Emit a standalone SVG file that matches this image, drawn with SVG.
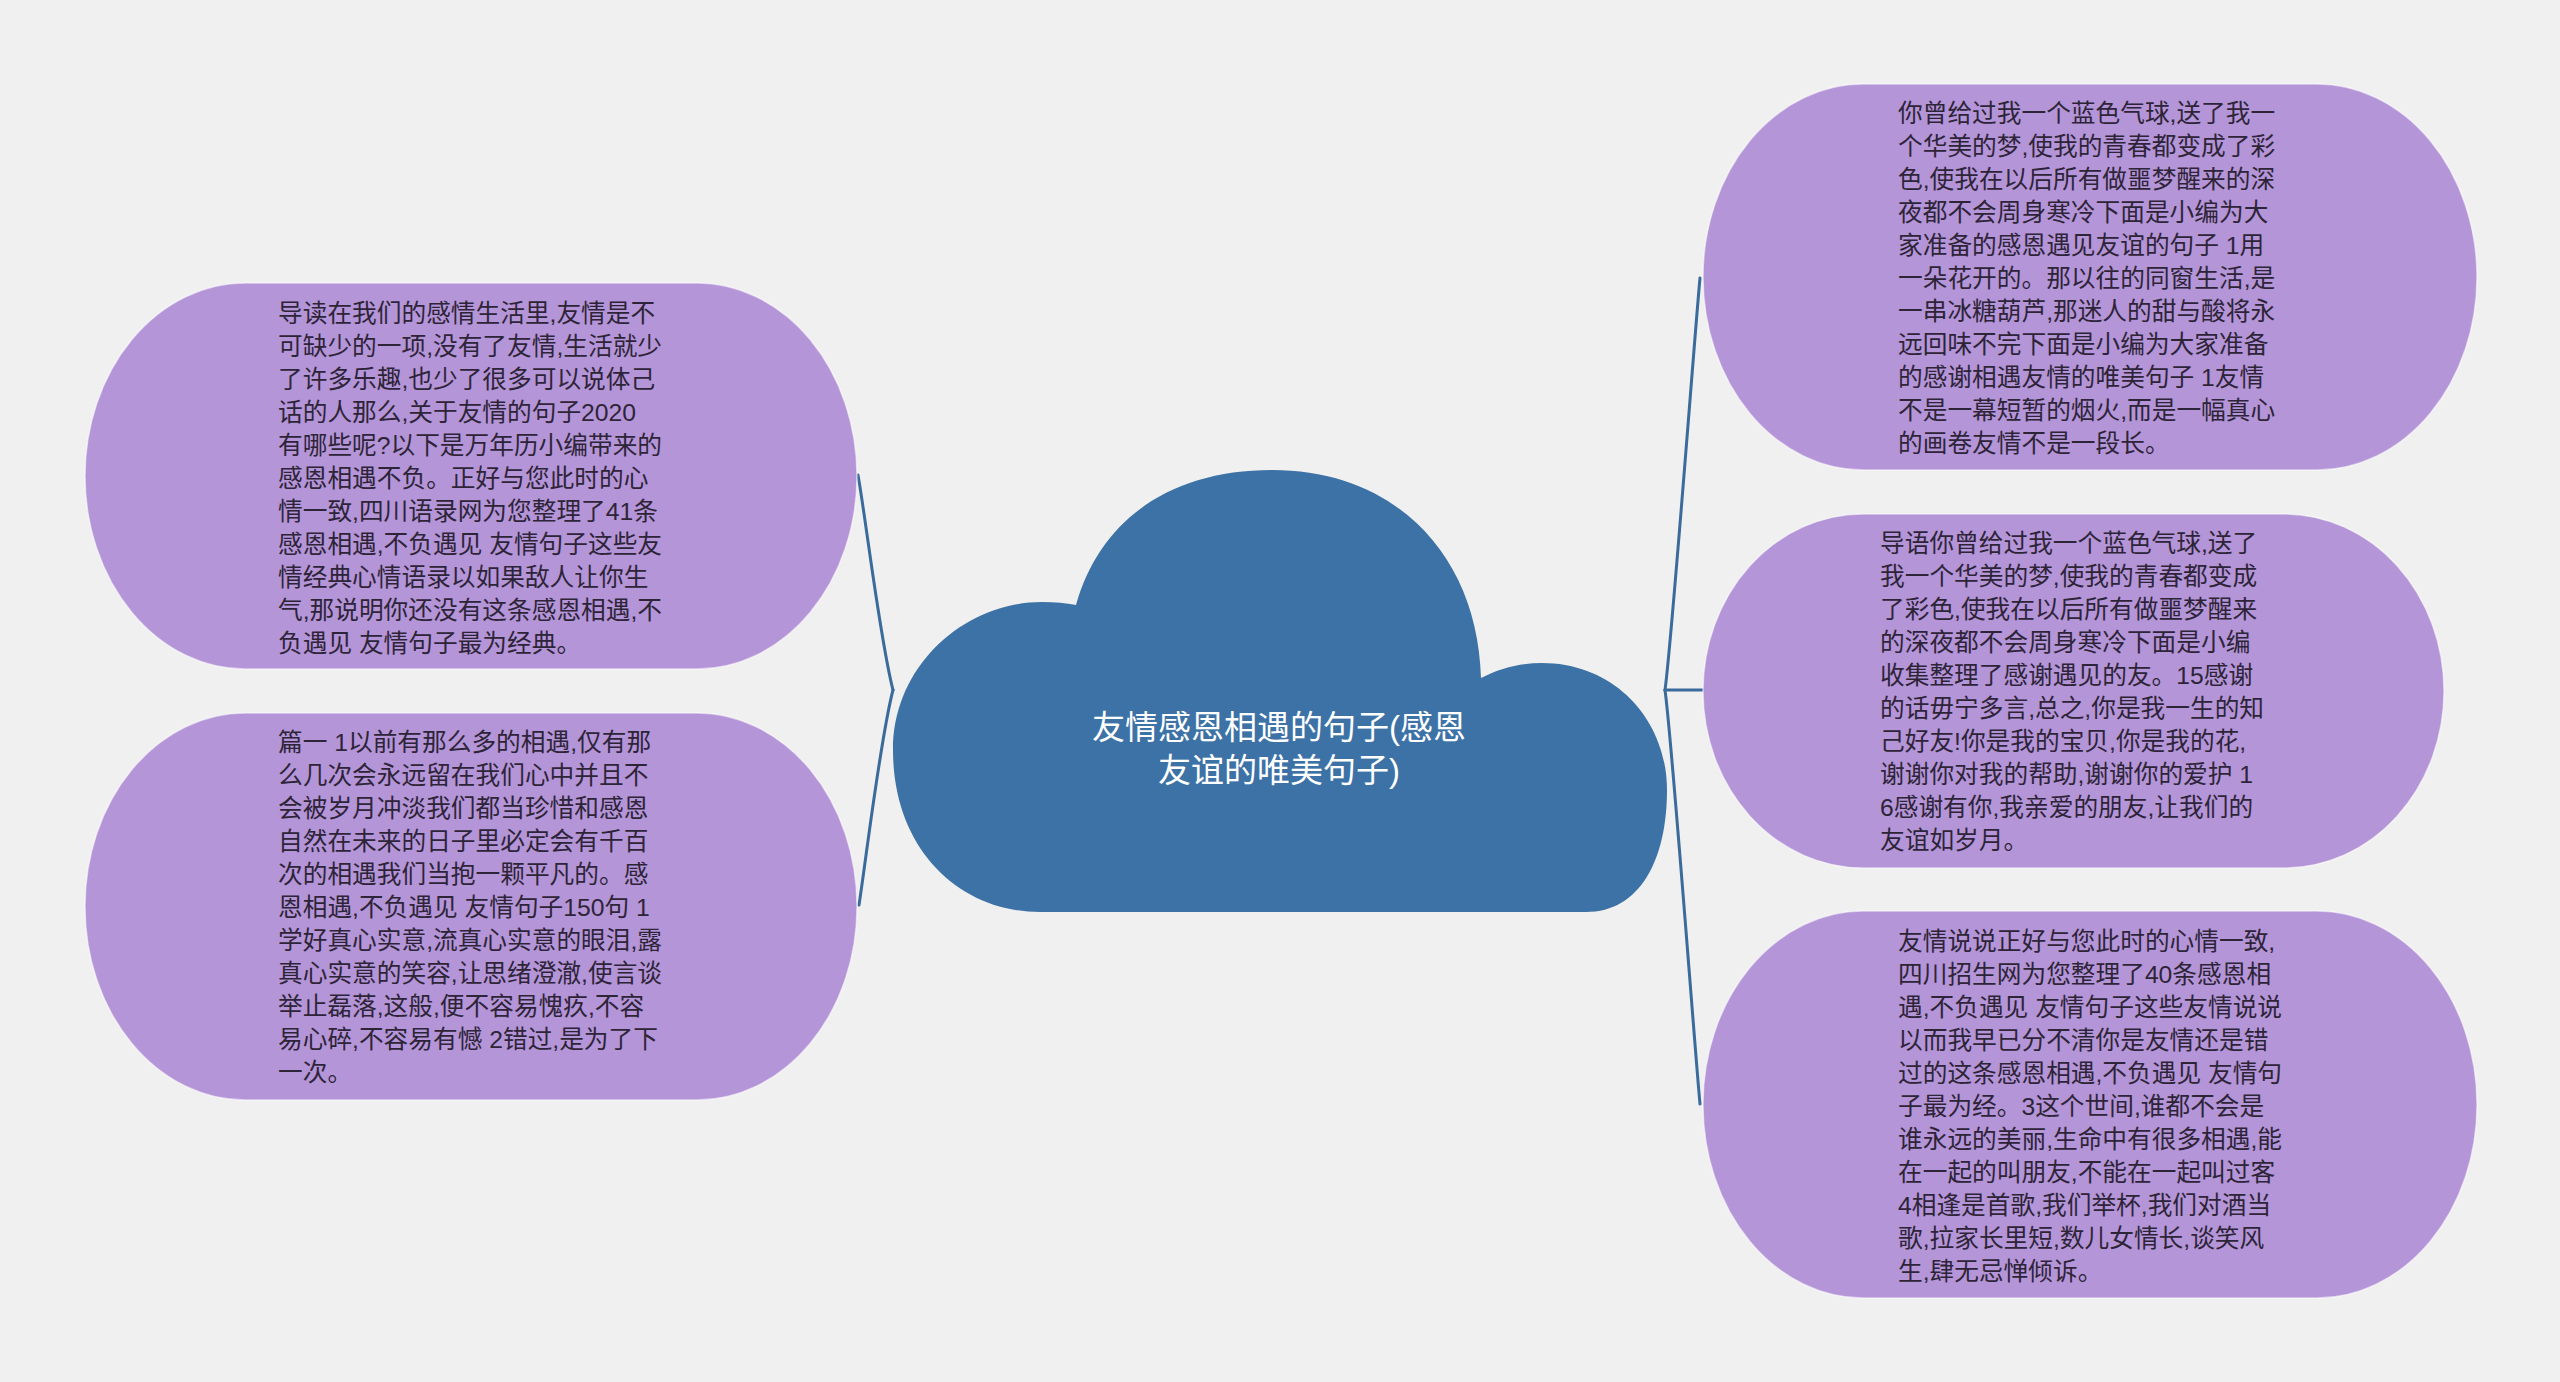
<svg xmlns="http://www.w3.org/2000/svg" width="2560" height="1382" viewBox="0 0 2560 1382">
<style>
.bg{fill:#f0f0f0}
.node{fill:#b495d8;stroke:#ffffff;stroke-opacity:0.55;stroke-width:1.5}
.cloud{fill:#3d72a6}
.conn{fill:none;stroke:#3a6b9b;stroke-width:3;stroke-linecap:round;stroke-linejoin:round}
.t{font-family:'Liberation Sans','Noto Sans CJK SC',sans-serif;font-size:24.7px;fill:#2e2438}
.title{font-family:'Liberation Sans','Noto Sans CJK SC',sans-serif;font-size:33px;fill:#ffffff;text-anchor:middle}
</style>
<rect class="bg" x="0" y="0" width="2560" height="1382"/>
<g id="connectors">
<path class="conn" d="M 893 690 C 880 640, 866 520, 858 475"/>
<path class="conn" d="M 893 690 C 880 740, 866 860, 859 905"/>
<path class="conn" d="M 1665 690 C 1672 640, 1695 330, 1700 278"/>
<path class="conn" d="M 1665 690 C 1672 740, 1695 1052, 1700 1104"/>
<path class="conn" d="M 1665 690 L 1703 690"/>
</g>
<g id="root">
<path class="cloud" d="M 1040 912 C 960 912, 893 850, 893 750 C 893 665, 965 602, 1042 602 C 1055 602, 1066 603, 1076 605 C 1100 520, 1170 470, 1272 470 C 1400 470, 1478 560, 1481 678 C 1500 668, 1520 663, 1542 663 C 1615 663, 1667 720, 1667 790 C 1667 860, 1640 912, 1586 912 Z"/>
<text class="title"><tspan x="1279" y="739">友情感恩相遇的句子(感恩</tspan><tspan x="1279" y="782">友谊的唯美句子)</tspan></text>
</g>
<g id="node-left-1">
<rect class="node" x="85" y="283" width="772" height="386" rx="160" ry="193"/>
<text class="t"><tspan x="278" y="322">导读在我们的感情生活里,友情是不</tspan><tspan x="278" dy="33">可缺少的一项,没有了友情,生活就少</tspan><tspan x="278" dy="33">了许多乐趣,也少了很多可以说体己</tspan><tspan x="278" dy="33">话的人那么,关于友情的句子2020</tspan><tspan x="278" dy="33">有哪些呢?以下是万年历小编带来的</tspan><tspan x="278" dy="33">感恩相遇不负。正好与您此时的心</tspan><tspan x="278" dy="33">情一致,四川语录网为您整理了41条</tspan><tspan x="278" dy="33">感恩相遇,不负遇见 友情句子这些友</tspan><tspan x="278" dy="33">情经典心情语录以如果敌人让你生</tspan><tspan x="278" dy="33">气,那说明你还没有这条感恩相遇,不</tspan><tspan x="278" dy="33">负遇见 友情句子最为经典。</tspan></text>
</g>
<g id="node-left-2">
<rect class="node" x="85" y="713" width="772" height="387" rx="160" ry="193"/>
<text class="t"><tspan x="278" y="751">篇一 1以前有那么多的相遇,仅有那</tspan><tspan x="278" dy="33">么几次会永远留在我们心中并且不</tspan><tspan x="278" dy="33">会被岁月冲淡我们都当珍惜和感恩</tspan><tspan x="278" dy="33">自然在未来的日子里必定会有千百</tspan><tspan x="278" dy="33">次的相遇我们当抱一颗平凡的。感</tspan><tspan x="278" dy="33">恩相遇,不负遇见 友情句子150句 1</tspan><tspan x="278" dy="33">学好真心实意,流真心实意的眼泪,露</tspan><tspan x="278" dy="33">真心实意的笑容,让思绪澄澈,使言谈</tspan><tspan x="278" dy="33">举止磊落,这般,便不容易愧疚,不容</tspan><tspan x="278" dy="33">易心碎,不容易有憾 2错过,是为了下</tspan><tspan x="278" dy="33">一次。</tspan></text>
</g>
<g id="node-right-1">
<rect class="node" x="1703" y="84" width="774" height="386" rx="160" ry="193"/>
<text class="t"><tspan x="1898" y="122">你曾给过我一个蓝色气球,送了我一</tspan><tspan x="1898" dy="33">个华美的梦,使我的青春都变成了彩</tspan><tspan x="1898" dy="33">色,使我在以后所有做噩梦醒来的深</tspan><tspan x="1898" dy="33">夜都不会周身寒冷下面是小编为大</tspan><tspan x="1898" dy="33">家准备的感恩遇见友谊的句子 1用</tspan><tspan x="1898" dy="33">一朵花开的。那以往的同窗生活,是</tspan><tspan x="1898" dy="33">一串冰糖葫芦,那迷人的甜与酸将永</tspan><tspan x="1898" dy="33">远回味不完下面是小编为大家准备</tspan><tspan x="1898" dy="33">的感谢相遇友情的唯美句子 1友情</tspan><tspan x="1898" dy="33">不是一幕短暂的烟火,而是一幅真心</tspan><tspan x="1898" dy="33">的画卷友情不是一段长。</tspan></text>
</g>
<g id="node-right-2">
<rect class="node" x="1703" y="514" width="741" height="354" rx="160" ry="177"/>
<text class="t"><tspan x="1880" y="552">导语你曾给过我一个蓝色气球,送了</tspan><tspan x="1880" dy="33">我一个华美的梦,使我的青春都变成</tspan><tspan x="1880" dy="33">了彩色,使我在以后所有做噩梦醒来</tspan><tspan x="1880" dy="33">的深夜都不会周身寒冷下面是小编</tspan><tspan x="1880" dy="33">收集整理了感谢遇见的友。15感谢</tspan><tspan x="1880" dy="33">的话毋宁多言,总之,你是我一生的知</tspan><tspan x="1880" dy="33">己好友!你是我的宝贝,你是我的花,</tspan><tspan x="1880" dy="33">谢谢你对我的帮助,谢谢你的爱护 1</tspan><tspan x="1880" dy="33">6感谢有你,我亲爱的朋友,让我们的</tspan><tspan x="1880" dy="33">友谊如岁月。</tspan></text>
</g>
<g id="node-right-3">
<rect class="node" x="1703" y="911" width="774" height="387" rx="160" ry="193"/>
<text class="t"><tspan x="1898" y="950">友情说说正好与您此时的心情一致,</tspan><tspan x="1898" dy="33">四川招生网为您整理了40条感恩相</tspan><tspan x="1898" dy="33">遇,不负遇见 友情句子这些友情说说</tspan><tspan x="1898" dy="33">以而我早已分不清你是友情还是错</tspan><tspan x="1898" dy="33">过的这条感恩相遇,不负遇见 友情句</tspan><tspan x="1898" dy="33">子最为经。3这个世间,谁都不会是</tspan><tspan x="1898" dy="33">谁永远的美丽,生命中有很多相遇,能</tspan><tspan x="1898" dy="33">在一起的叫朋友,不能在一起叫过客</tspan><tspan x="1898" dy="33">4相逢是首歌,我们举杯,我们对酒当</tspan><tspan x="1898" dy="33">歌,拉家长里短,数儿女情长,谈笑风</tspan><tspan x="1898" dy="33">生,肆无忌惮倾诉。</tspan></text>
</g>
</svg>
